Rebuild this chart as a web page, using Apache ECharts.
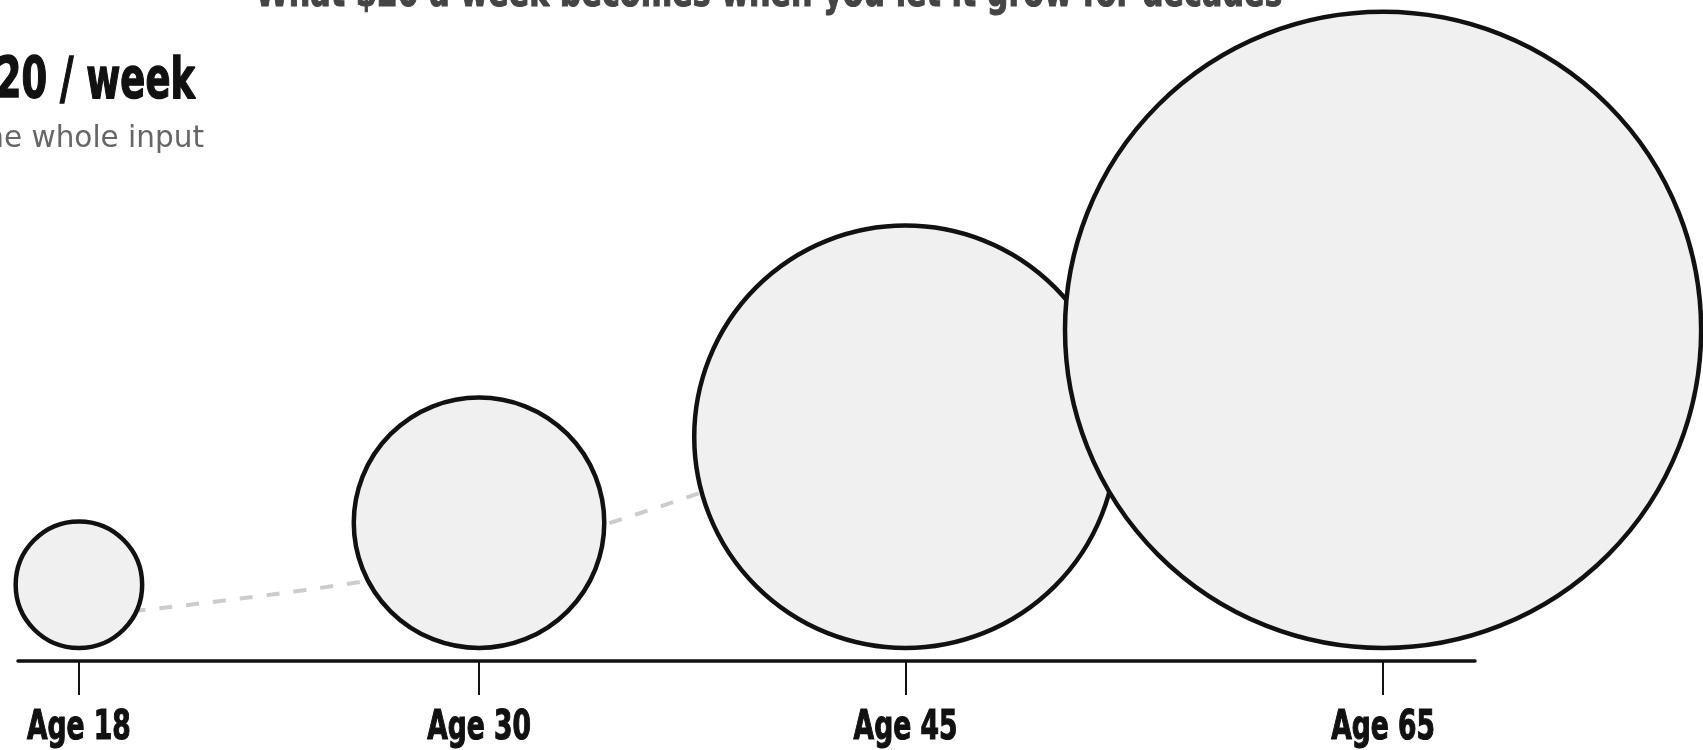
<!DOCTYPE html>
<html>
<head>
<meta charset="utf-8">
<script src="https://cdn.jsdelivr.net/npm/echarts@6/dist/echarts.min.js"></script>
<style>
  html, body { margin: 0; padding: 0; background: #ffffff; }
  #chart { width: 1703px; height: 750px; }
</style>
</head>
<body>
<div id="chart"></div>
<script>
// ---- data ----
const ages = [18, 30, 45, 65];
const tickLabels = ['Age 18', 'Age 30', 'Age 45', 'Age 65'];
const balances = [1040, 4078, 11601, 26300];   // bubble values (area-scaled)
const trend = [31, 88, 232, 450];              // dashed growth path
const titleText = 'What $20 a week becomes when you let it grow for decades';
const headline = '$20 / week';
const caption = "That's the whole input";

// ---- axis transform (log of age + offset gives the timeline spacing) ----
const AGE_OFFSET = 54;
const toAxis = a => a + AGE_OFFSET;

const bubbleData = ages.map((a, i) => [toAxis(a), 0, balances[i]]);
const trendData = ages.map((a, i) => [toAxis(a), trend[i]]);
const tickValues = ages.map(toAxis);

const chart = echarts.init(document.getElementById('chart'), null, { renderer: 'canvas' });

const COND = '"DejaVu Sans Condensed", "DejaVu Sans", sans-serif';

chart.setOption({
  backgroundColor: '#ffffff',
  animation: false,
  grid: { left: 18, right: 228, top: 0, bottom: 89, containLabel: false },
  xAxis: {
    type: 'log',
    logBase: 10,
    min: 70.33,
    max: 123.29,
    axisLine: { show: true, onZero: false, lineStyle: { color: '#111', width: 3.5 } },
    axisTick: {
      show: true,
      customValues: tickValues,
      length: 34,
      lineStyle: { color: '#111', width: 2 }
    },
    axisLabel: { show: false },
    splitLine: { show: false },
    minorTick: { show: false },
    minorSplitLine: { show: false }
  },
  yAxis: {
    type: 'value',
    min: -13,
    max: 648,
    show: false
  },
  series: [
    {
      type: 'line',
      data: trendData,
      smooth: 0.3,
      symbol: 'none',
      z: 1,
      lineStyle: { color: '#cccccc', width: 4, type: [13, 14] }
    },
    {
      type: 'scatter',
      data: bubbleData,
      z: 2,
      clip: false,
      symbol: 'circle',
      symbolSize: v => 126.5 * Math.sqrt(v[2] / balances[0]),
      symbolOffset: [0, '-50%'],
      itemStyle: { color: '#f0f0f0', borderColor: '#111', borderWidth: 4.5, opacity: 1 }
    }
  ]
});

// tick labels placed at the axis positions given by the chart's own scale
const labelGraphics = ages.map((a, i) => {
  const px = chart.convertToPixel({ gridIndex: 0 }, [toAxis(a), 0]);
  return {
    type: 'text',
    x: px[0], y: 728,
    scaleX: 0.72,
    style: {
      text: tickLabels[i],
      align: 'center',
      verticalAlign: 'middle',
      font: 'bold 41px ' + COND,
      fill: '#111111',
      stroke: '#111111',
      lineWidth: 1.2
    }
  };
});

chart.setOption({
  graphic: [
    {
      type: 'text',
      x: 769, y: -5,
      scaleX: 0.8,
      style: {
        text: titleText,
        align: 'center',
        verticalAlign: 'middle',
        font: 'bold 42px ' + COND,
        fill: '#444444',
        stroke: '#444444',
        lineWidth: 1
      }
    },
    {
      type: 'text',
      x: 195, y: 83,
      scaleX: 0.72,
      style: {
        text: headline,
        align: 'right',
        verticalAlign: 'middle',
        font: 'bold 57px ' + COND,
        fill: '#111111',
        stroke: '#111111',
        lineWidth: 1.4
      }
    },
    {
      type: 'text',
      x: 204, y: 139,
      style: {
        text: caption,
        align: 'right',
        verticalAlign: 'middle',
        font: '29.5px "DejaVu Sans", sans-serif',
        fill: '#666666'
      }
    }
  ].concat(labelGraphics)
});
</script>
</body>
</html>
